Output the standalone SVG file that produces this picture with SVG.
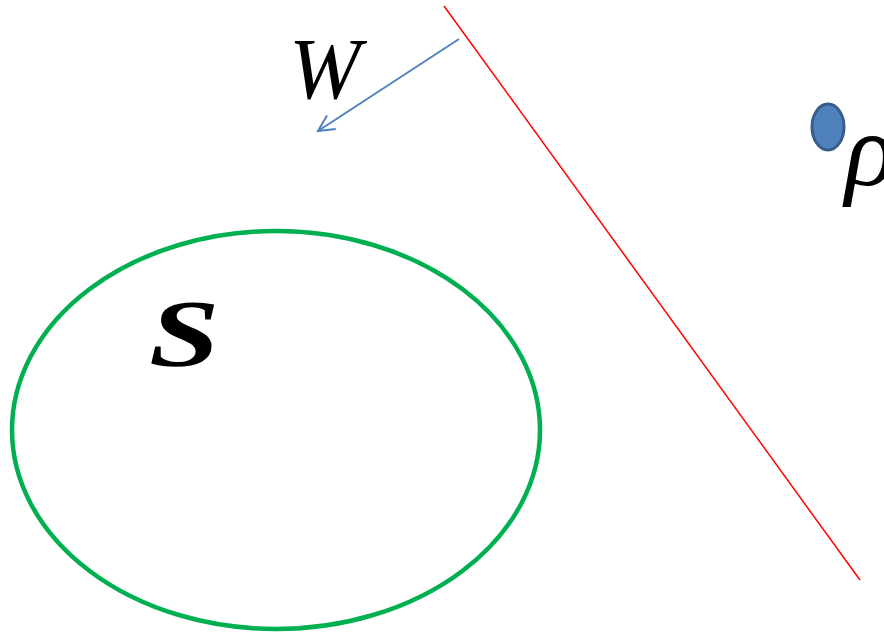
<svg xmlns="http://www.w3.org/2000/svg" width="884" height="634" viewBox="0 0 884 634">
<defs>
<marker id="ah" viewBox="0 0 20 20" refX="18" refY="10" markerWidth="20" markerHeight="20" markerUnits="userSpaceOnUse" orient="auto">
<path d="M2,2 L18,10 L2,18" fill="none" stroke="#4f81bd" stroke-width="2"/>
</marker>
</defs>
<rect width="884" height="634" fill="#fff"/>
<g id="plane"><line x1="444" y1="6" x2="860" y2="580" stroke="#ff0000" stroke-width="1.5"/></g>
<g id="set-S">
<ellipse cx="276" cy="430" rx="264" ry="199" fill="none" stroke="#00b050" stroke-width="4.5"/>
<text transform="translate(149,366) scale(1.32,1)" x="0" y="0" font-size="96" font-family="Liberation Serif" font-style="italic" font-weight="bold" fill="#000">S</text>
</g>
<g id="point-rho">
<ellipse cx="828" cy="127" rx="16" ry="23" fill="#4f81bd" stroke="#385d8a" stroke-width="3"/>
<text x="845" y="185" font-size="104" font-family="Liberation Serif" font-style="italic" fill="#000">ρ</text>
</g>
<g id="connectors">
<line x1="459" y1="39" x2="318" y2="131" stroke="#4f81bd" stroke-width="2" marker-end="url(#ah)"/>
</g>
<g id="label-W"><text x="289" y="98" font-size="86" font-family="Liberation Serif" font-style="italic" fill="#000">W</text></g>
</svg>
